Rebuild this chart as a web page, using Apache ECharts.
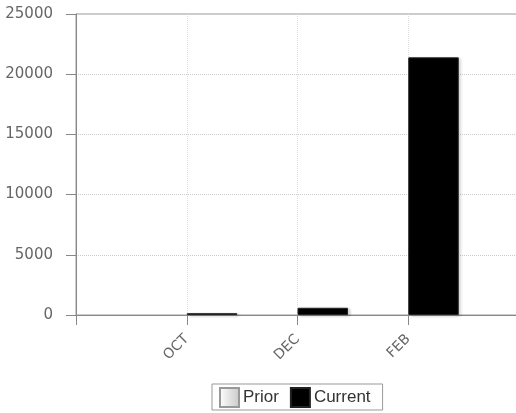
<!DOCTYPE html>
<html>
<head>
<meta charset="utf-8">
<script src="https://cdn.jsdelivr.net/npm/echarts@6/dist/echarts.min.js"></script>
<style>html,body{margin:0;padding:0;background:#fff}#c{width:516px;height:413px}</style>
</head>
<body>
<div id="c"></div>
<script>
var categories = ['', 'OCT', 'DEC', 'FEB', ''];
var priorValues = [null, null, null, null, null];
var currentValues = [null, 150, 600, 21400, null];
var yTicks = { min: 0, max: 25000, interval: 5000 };

var chart = echarts.init(document.getElementById('c'));
chart.setOption({
  animation: false,
  backgroundColor: '#fff',
  grid: { left: 76, top: 14, height: 301, width: 443, outerBoundsMode: 'none', containLabel: false, show: true, borderColor: '#999', borderWidth: 1, backgroundColor: 'transparent' },
  legend: {
    left: 212, top: 384,
    borderColor: '#999', borderWidth: 1,
    padding: [3, 12, 2, 7],
    itemWidth: 19, itemHeight: 19, itemGap: 11,
    icon: 'rect',
    textStyle: { fontFamily: 'Liberation Sans', fontSize: 17, color: '#333', padding: [0, 0, 0, -1] },
    data: ['Prior', 'Current']
  },
  xAxis: {
    type: 'category',
    data: categories,
    boundaryGap: false,
    axisLine: { lineStyle: { color: '#888' } },
    axisTick: { show: true, length: 10, interval: 0, lineStyle: { color: '#888' } },
    axisLabel: { rotate: 45, interval: 0, margin: 22, color: '#666', fontFamily: 'DejaVu Sans', fontSize: 14 },
    splitLine: { show: true, interval: 0, lineStyle: { color: '#ddd', type: 'dotted' } }
  },
  yAxis: {
    type: 'value',
    min: yTicks.min, max: yTicks.max, interval: yTicks.interval,
    axisLine: { show: true, lineStyle: { color: '#888' } },
    axisTick: { show: true, length: 10, lineStyle: { color: '#888' } },
    axisLabel: { margin: 23, color: '#666', fontFamily: 'DejaVu Sans', fontSize: 15, formatter: function (v) { return String(v); } },
    splitLine: { show: true, lineStyle: { color: '#ccc', type: 'dotted' } }
  },
  series: [
    {
      name: 'Prior', type: 'bar', data: priorValues, barWidth: 50.5, barGap: '0%',
      itemStyle: { color: new echarts.graphic.LinearGradient(0, 0, 1, 0, [{ offset: 0, color: '#ffffff' }, { offset: 1, color: '#c8c8c8' }]), borderColor: '#999', borderWidth: 1 }
    },
    {
      name: 'Current', type: 'bar', data: currentValues, barWidth: 50.5, barGap: '0%',
      itemStyle: { color: '#000', borderColor: '#222', borderWidth: 1, shadowColor: 'rgba(0,0,0,0.2)', shadowBlur: 3, shadowOffsetX: 2, shadowOffsetY: 1 }
    }
  ]
});
</script>
</body>
</html>
